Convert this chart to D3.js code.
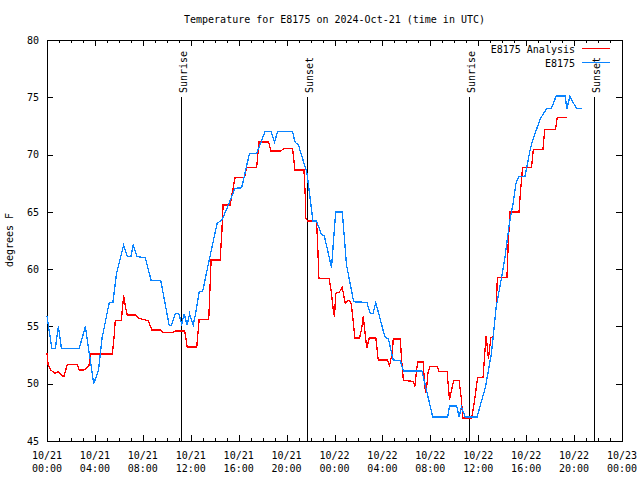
<!DOCTYPE html>
<html>
<head>
<meta charset="utf-8">
<script src="https://cdn.jsdelivr.net/npm/d3@7"></script>
<style>
  html, body { margin: 0; padding: 0; background: #fff; }
  svg { display: block; font-family: "DejaVu Sans Mono", "Liberation Mono", monospace; }
</style>
</head>
<body>
<svg id="chart" width="640" height="480"></svg>
<script>
// ---------------- data (hours after 2024-10-21 00:00 UTC) ----------------
const titleText = "Temperature for E8175 on 2024-Oct-21 (time in UTC)";
const yLabelText = "degrees F";
const seriesNames = ["E8175 Analysis", "E8175"];
const seriesColors = ["#ff0000", "#0a84ff"];

const analysisHours = [0.0,0.1,0.3,0.7,0.9,1.15,1.4,1.7,2.5,2.7,3.1,3.5,3.65,5.45,5.6,5.7,6.2,6.4,6.55,6.7,7.4,7.7,8.45,8.75,9.5,9.7,10.45,10.7,11.5,11.7,12.5,12.7,13.5,13.6,13.7,14.45,14.6,14.7,15.3,15.4,15.7,16.5,16.65,17.5,17.7,18.5,18.7,19.5,19.8,20.5,20.7,21.45,21.55,21.6,21.75,22.5,22.6,22.7,23.55,23.75,23.9,24.0,24.1,24.4,24.65,24.9,25.2,25.4,25.55,25.7,26.1,26.3,26.4,26.55,26.7,26.9,27.45,27.65,28.4,28.6,28.85,28.9,29.5,29.6,29.75,30.6,30.7,30.85,30.95,31.4,31.55,31.65,31.8,31.95,32.6,32.7,33.4,33.6,33.8,33.95,34.4,34.6,34.7,35.45,35.7,35.95,36.4,36.65,36.85,37.05,37.25,37.5,37.6,38.4,38.5,38.65,39.4,39.55,39.7,40.45,40.6,41.4,41.55,42.45,42.6,43.4];
const analysisTemps = [52.65,51.6,51.2,50.9,51.05,50.8,50.6,51.7,51.7,51.2,51.2,51.6,52.6,52.6,54.05,55.5,55.5,57.7,56.7,56.0,56.0,55.7,55.5,54.7,54.7,54.45,54.45,54.6,54.6,53.2,53.2,55.6,55.6,58.2,60.8,60.8,63.3,65.6,65.6,66.3,68.0,68.0,68.9,68.9,71.1,71.1,70.3,70.3,70.55,70.55,68.65,68.65,66.6,64.5,64.2,64.2,62.0,59.2,59.2,57.9,56.4,55.85,57.9,58.0,58.4,57.0,57.3,57.0,55.56,54.0,54.0,55.0,55.9,54.4,53.1,54.0,54.0,52.07,52.07,51.6,52.9,53.9,53.9,52.07,50.3,50.2,49.7,51.2,51.9,51.9,49.6,49.2,50.9,51.5,51.5,51.05,51.05,48.6,49.6,50.3,50.3,48.6,47.0,47.0,48.6,50.55,50.55,54.2,52.2,54.0,54.1,56.7,59.3,59.3,62.25,65.0,65.0,67.05,68.9,68.9,70.45,70.45,72.2,72.2,73.25,73.25];

const stationHours = [0.0,0.4,0.7,0.95,1.2,2.7,3.2,3.9,4.3,4.6,5.2,5.5,5.8,6.4,6.7,7.0,7.2,7.5,8.2,8.7,9.5,10.2,10.4,10.7,11.0,11.25,11.45,11.7,11.9,12.2,12.4,12.7,13.0,13.5,14.2,14.6,14.9,15.7,16.25,16.9,17.5,18.2,18.7,19.0,19.25,20.5,20.7,21.0,21.7,22.2,22.5,22.9,23.15,23.75,24.1,24.65,25.0,25.6,26.7,27.0,27.2,27.45,28.2,28.5,28.9,29.5,29.75,31.3,32.2,33.45,33.6,34.2,34.4,34.6,34.9,35.9,36.6,37.1,37.25,37.5,37.95,38.2,38.6,38.9,39.15,39.4,39.9,40.05,40.3,40.5,40.85,41.15,41.7,42.1,42.5,43.25,43.4,43.65,44.2,44.7];
const stationTemps = [55.9,53.1,53.1,55.0,53.1,53.1,55.0,50.0,51.2,54.0,57.1,57.1,59.6,62.1,61.1,61.1,62.1,61.1,61.0,59.0,59.0,55.1,55.1,56.1,56.1,55.2,56.1,55.1,56.1,55.1,56.1,58.0,58.1,60.6,64.0,64.3,65.0,67.05,67.1,70.1,70.1,72.0,72.0,71.1,72.0,72.0,71.1,70.8,68.4,64.2,64.2,63.05,62.9,60.15,65.0,65.0,60.4,57.15,57.1,56.1,56.1,57.07,54.1,53.9,52.07,52.0,51.1,51.1,47.1,47.1,48.05,48.05,47.1,48.0,47.1,47.1,49.7,52.65,54.1,56.7,59.3,60.8,64.0,65.7,67.5,68.07,68.1,68.9,70.25,71.1,72.15,73.07,74.0,74.0,75.1,75.1,74.0,75.1,74.0,74.0];

const sunHours = [11.2, 21.72, 35.23, 45.7];
const sunLabels = ["Sunrise", "Sunset", "Sunrise", "Sunset"];

const yTicks = [45, 50, 55, 60, 65, 70, 75, 80];
const majorTickHours = [0, 4, 8, 12, 16, 20, 24, 28, 32, 36, 40, 44, 48];

// ---------------- layout ----------------
const startMs = Date.UTC(2024, 9, 21, 0, 0, 0);
const toDate = h => new Date(startMs + h * 3600e3);
const L = 47, R = 622, T = 40, B = 441;

const svg = d3.select("#chart");
const x = d3.scaleUtc().domain([toDate(0), toDate(48)]).range([L, R]);
const y = d3.scaleLinear().domain([45, 80]).range([B, T]);

const majorTicks = majorTickHours.map(toDate);
const minorTicks = d3.range(0, 49).filter(h => h % 4 !== 0).map(toDate);

// sun lines (below data)
const sun = svg.append("g");
sunHours.forEach((h, i) => {
  const px = Math.round(x(toDate(h))) + 0.5;
  sun.append("line").attr("x1", px).attr("x2", px).attr("y1", 97).attr("y2", B)
     .attr("stroke", "#000").attr("stroke-width", 1).attr("shape-rendering", "crispEdges");
  sun.append("text").attr("transform", `translate(${px + 5},93) rotate(-90)`)
     .attr("font-size", 10).attr("fill", "#000").text(sunLabels[i]);
});

// axes
function styleAxis(g) {
  g.select(".domain").remove();
  g.selectAll(".tick line").attr("stroke", "#000").attr("shape-rendering", "crispEdges");
  g.selectAll(".tick text").attr("font-size", 10).attr("fill", "#000").attr("font-family", "DejaVu Sans Mono, monospace");
}
svg.append("g").attr("transform", `translate(0,${B})`)
   .call(d3.axisBottom(x).tickValues(majorTicks).tickSize(-6).tickFormat(""))
   .call(styleAxis);
svg.append("g").attr("transform", `translate(0,${B})`)
   .call(d3.axisBottom(x).tickValues(minorTicks).tickSize(-3).tickFormat(""))
   .call(styleAxis);
svg.append("g").attr("transform", `translate(0,${T})`)
   .call(d3.axisTop(x).tickValues(majorTicks).tickSize(-6).tickFormat(""))
   .call(styleAxis);
svg.append("g").attr("transform", `translate(0,${T})`)
   .call(d3.axisTop(x).tickValues(minorTicks).tickSize(-3).tickFormat(""))
   .call(styleAxis);
svg.append("g").attr("transform", `translate(${L},0)`)
   .call(d3.axisLeft(y).tickValues(yTicks).tickSize(-6).tickPadding(8).tickFormat(d3.format("d")))
   .call(styleAxis);
svg.append("g").attr("transform", `translate(${R},0)`)
   .call(d3.axisRight(y).tickValues(yTicks).tickSize(-6).tickFormat(""))
   .call(styleAxis);

// x tick labels (two lines)
const fmtD = d3.utcFormat("%m/%d"), fmtT = d3.utcFormat("%H:%M");
const xl = svg.append("g").attr("font-size", 10).attr("text-anchor", "middle").attr("fill", "#000");
majorTicks.forEach(d => {
  xl.append("text").attr("x", x(d)).attr("y", 459).text(fmtD(d));
  xl.append("text").attr("x", x(d)).attr("y", 472).text(fmtT(d));
});

// border
svg.append("rect").attr("x", L + 0.5).attr("y", T + 0.5).attr("width", R - L).attr("height", B - T)
   .attr("fill", "none").attr("stroke", "#000").attr("shape-rendering", "crispEdges");

// series
const line = d3.line().x(d => x(d.t)).y(d => y(d.v));
const analysis = analysisHours.map((h, i) => ({ t: toDate(h), v: analysisTemps[i] }));
const station = stationHours.map((h, i) => ({ t: toDate(h), v: stationTemps[i] }));
[analysis, station].forEach((data, i) => {
  svg.append("path").datum(data).attr("d", line).attr("fill", "none")
     .attr("stroke", seriesColors[i]).attr("stroke-width", 1.3)
     .attr("shape-rendering", "crispEdges");
});

// legend
const leg = svg.append("g").attr("font-size", 10).attr("fill", "#000");
seriesNames.forEach((n, i) => {
  const yy = 49 + i * 14;
  leg.append("text").attr("x", 575).attr("y", yy + 3.5).attr("text-anchor", "end").text(n);
  leg.append("line").attr("x1", 582).attr("x2", 610).attr("y1", yy - 0.5).attr("y2", yy - 0.5)
     .attr("stroke", seriesColors[i]).attr("stroke-width", 1).attr("shape-rendering", "crispEdges");
});

// title and y label
svg.append("text").attr("x", (L + R) / 2).attr("y", 23).attr("text-anchor", "middle")
   .attr("font-size", 10).attr("fill", "#000").text(titleText);
svg.append("text").attr("transform", "translate(13,240) rotate(-90)").attr("text-anchor", "middle")
   .attr("font-size", 10).attr("fill", "#000").text(yLabelText);
</script>
</body>
</html>
